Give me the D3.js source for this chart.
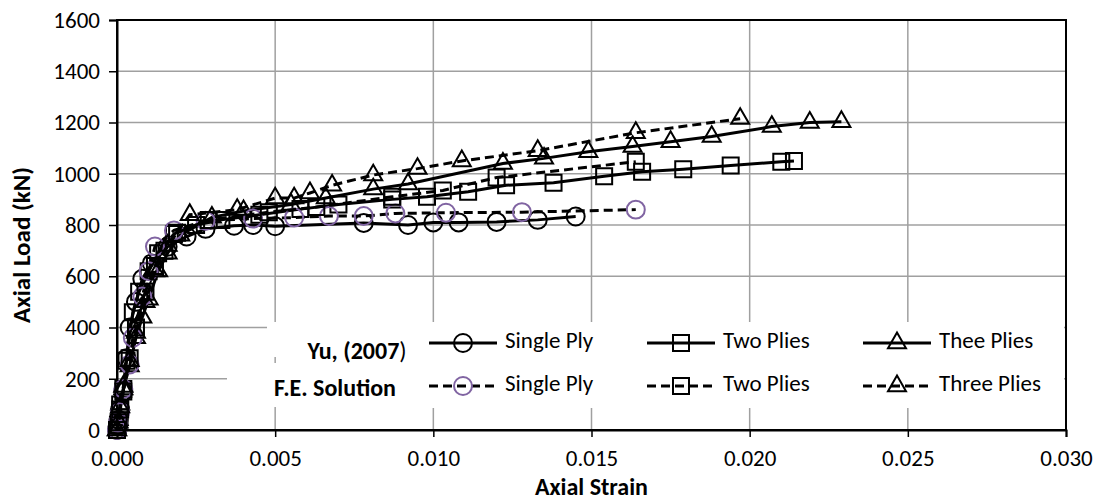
<!DOCTYPE html>
<html>
<head>
<meta charset="utf-8">
<script src="https://cdn.jsdelivr.net/npm/d3@7"></script>
<style>
  body { margin: 0; background: #fff; }
  svg text { font-family: Calibri, Carlito, Lato, sans-serif; fill: #000; }
</style>
</head>
<body>
<div id="chart"></div>
<script>
// data: [axial strain, axial load kN]
var yuSingle = [[0,0],[0.00002,15],[0.00005,40],[0.0001,80],[0.0002,150],[0.0003,280],[0.0004,400],[0.0006,500],[0.0008,590],[0.0011,650],[0.0016,715],[0.0022,755],[0.0028,785],[0.0037,797],[0.0043,800],[0.0050,795],[0.0078,808],[0.0092,800],[0.0100,810],[0.0108,810],[0.0120,812],[0.0133,820],[0.0145,833]];
var feSingle = [[0,0],[0.00003,30],[0.0001,70],[0.0002,160],[0.0004,256],[0.0005,360],[0.0008,521],[0.0010,620],[0.0012,716],[0.0018,779],[0.0028,817],[0.0043,825],[0.0056,829],[0.0067,835],[0.0078,835],[0.0088,845],[0.0104,848],[0.0128,850],[0.0164,860]];
var yuTwo = [[0,0],[0.00003,20],[0.00008,50],[0.0001,100],[0.0002,160],[0.0003,270],[0.0005,460],[0.0007,540],[0.0010,620],[0.0013,690],[0.0018,765],[0.0025,800],[0.0033,820],[0.0045,840],[0.0058,862],[0.0070,880],[0.0087,900],[0.0098,910],[0.0111,930],[0.0123,955],[0.0138,965],[0.0154,990],[0.0166,1008],[0.0179,1018],[0.0194,1032],[0.0210,1047],[0.0214,1050]];
var feTwo = [[0,0],[0.00005,30],[0.0001,80],[0.0002,150],[0.0004,280],[0.0006,400],[0.0009,540],[0.0012,640],[0.0015,700],[0.0019,770],[0.0029,820],[0.0048,850],[0.0063,870],[0.0087,910],[0.0103,935],[0.0120,985],[0.0164,1047]];
var yuThree = [[0,0],[0.00005,40],[0.0001,100],[0.0002,160],[0.0004,250],[0.0006,360],[0.0008,440],[0.0010,510],[0.0013,620],[0.0016,690],[0.0020,760],[0.0030,830],[0.0040,855],[0.0055,880],[0.0066,905],[0.0081,940],[0.0092,960],[0.0122,1040],[0.0135,1060],[0.0149,1086],[0.0163,1106],[0.0175,1125],[0.0188,1145],[0.0207,1184],[0.0219,1200],[0.0229,1203]];
var feThree = [[0,0],[0.00005,30],[0.0001,90],[0.0002,170],[0.0004,270],[0.0006,380],[0.0009,500],[0.0012,620],[0.0016,720],[0.0023,840],[0.0038,860],[0.0050,905],[0.0056,905],[0.0061,925],[0.0068,955],[0.0081,995],[0.0095,1020],[0.0109,1050],[0.0133,1090],[0.0164,1160],[0.0197,1215]];

var xTicks = [0, 0.005, 0.010, 0.015, 0.020, 0.025, 0.030];
var yTicks = [0, 200, 400, 600, 800, 1000, 1200, 1400, 1600];
var yuLabels = ['Single Ply', 'Two Plies', 'Thee Plies'];
var feLabels = ['Single Ply', 'Two Plies', 'Three Plies'];

main();

function main(){
	//configuration
	var width = 1103,
		height = 502,
		plotLeft = 117, plotRight = 1066, plotTop = 20, plotBottom = 430,
		fontSize = 23,
		boldSize = 24,
		purple = '#8064a2';

	var series = [
		{ data: yuSingle, shape: d3.symbolCircle, size: 254, dash: null, mark: '#000' },
		{ data: yuTwo, shape: d3.symbolSquare, size: 256, dash: null, mark: '#000' },
		{ data: yuThree, shape: d3.symbolTriangle, size: 140, dash: null, mark: '#000' },
		{ data: feSingle, shape: d3.symbolCircle, size: 254, dash: '9,5', mark: purple },
		{ data: feTwo, shape: d3.symbolSquare, size: 256, dash: '9,5', mark: '#000' },
		{ data: feThree, shape: d3.symbolTriangle, size: 140, dash: '9,5', mark: '#000' }
	];

	var x = d3.scaleLinear().domain([0, 0.03]).range([plotLeft, plotRight]);
	var y = d3.scaleLinear().domain([0, 1600]).range([plotBottom, plotTop]);

	var svg = d3.select('#chart')
		.append('svg')
			.attr('width', width)
			.attr('height', height);

	// gridlines
	svg.append('g')
		.selectAll('line')
		.data(yTicks.slice(1))
		.enter()
		.append('line')
			.attr('x1', plotLeft).attr('x2', plotRight)
			.attr('y1', function(d){ return y(d); })
			.attr('y2', function(d){ return y(d); })
			.attr('stroke', '#a0a0a0')
			.attr('stroke-width', 1.5);

	svg.append('g')
		.selectAll('line')
		.data(xTicks.slice(1, -1))
		.enter()
		.append('line')
			.attr('x1', function(d){ return x(d); })
			.attr('x2', function(d){ return x(d); })
			.attr('y1', plotTop).attr('y2', plotBottom)
			.attr('stroke', '#a0a0a0')
			.attr('stroke-width', 1.5);

	// white boxes behind legend and its two captions
	svg.append('rect').attr('x', 267).attr('y', 322).attr('width', 160).attr('height', 35).attr('fill', '#fff');
	svg.append('rect').attr('x', 227).attr('y', 363).attr('width', 200).attr('height', 44).attr('fill', '#fff');
	svg.append('rect').attr('x', 420).attr('y', 322).attr('width', 644).attr('height', 86).attr('fill', '#fff');

	// plot border
	svg.append('rect')
		.attr('x', plotLeft).attr('y', plotTop)
		.attr('width', plotRight - plotLeft).attr('height', plotBottom - plotTop)
		.attr('fill', 'none')
		.attr('stroke', '#000')
		.attr('stroke-width', 2);

	// axes
	var yAxis = d3.axisLeft(y).tickValues(yTicks).tickSize(8).tickPadding(9).tickFormat(d3.format('d'));
	var xAxis = d3.axisBottom(x).tickValues(xTicks).tickSize(7).tickPadding(13).tickFormat(d3.format('.3f'));

	var gy = svg.append('g').attr('transform', 'translate(' + plotLeft + ',0)').call(yAxis);
	var gx = svg.append('g').attr('transform', 'translate(0,' + plotBottom + ')').call(xAxis);
	[gx, gy].forEach(function(g){
		g.select('.domain').attr('stroke', '#000').attr('stroke-width', 2);
		g.selectAll('.tick line').attr('stroke', '#000').attr('stroke-width', 1.5);
		g.selectAll('.tick text').attr('font-size', fontSize).attr('font-family', 'Calibri, Carlito, Lato, sans-serif');
	});

	// axis titles
	svg.append('text')
		.attr('x', (plotLeft + plotRight) / 2).attr('y', 495)
		.attr('text-anchor', 'middle')
		.attr('font-size', boldSize).attr('font-weight', 'bold')
		.text('Axial Strain');

	svg.append('text')
		.attr('transform', 'translate(24,245) rotate(-90)')
		.attr('text-anchor', 'middle')
		.attr('dominant-baseline', 'middle')
		.attr('font-size', boldSize + 1).attr('font-weight', 'bold')
		.text('Axial Load (kN)');

	// series
	var line = d3.line()
		.x(function(d){ return x(d[0]); })
		.y(function(d){ return y(d[1]); });

	series.forEach(function(s){
		svg.append('path')
			.datum(s.data)
			.attr('d', line)
			.attr('fill', 'none')
			.attr('stroke', '#000')
			.attr('stroke-width', 3)
			.attr('stroke-dasharray', s.dash);

		svg.append('g')
			.selectAll('path')
			.data(s.data)
			.enter()
			.append('path')
				.attr('transform', function(d){ return 'translate(' + x(d[0]) + ',' + y(d[1]) + ')'; })
				.attr('d', d3.symbol().type(s.shape).size(s.size))
				.attr('fill', 'none')
				.attr('stroke', s.mark)
				.attr('stroke-width', 2);
	});

	// legend
	var colX = [429, 647, 863],
		rowY = [343, 386];

	[yuLabels, feLabels].forEach(function(labels, r){
		labels.forEach(function(label, c){
			var s = series[r * 3 + c],
				g = svg.append('g').attr('transform', 'translate(' + colX[c] + ',' + rowY[r] + ')');
			g.append('line')
				.attr('x1', 0).attr('x2', 68)
				.attr('stroke', '#000')
				.attr('stroke-width', 3)
				.attr('stroke-dasharray', s.dash);
			g.append('path')
				.attr('transform', 'translate(34,0)')
				.attr('d', d3.symbol().type(s.shape).size(s.size))
				.attr('fill', 'none')
				.attr('stroke', s.mark)
				.attr('stroke-width', 2);
			g.append('text')
				.attr('x', 76)
				.attr('dominant-baseline', 'middle')
				.attr('font-size', fontSize)
				.text(label);
		});
	});

	var yuText = svg.append('text')
		.attr('x', 357).attr('y', 353)
		.attr('text-anchor', 'middle')
		.attr('dominant-baseline', 'middle')
		.attr('font-size', boldSize);
	yuText.append('tspan').attr('font-weight', 'bold').text('Yu, (2007');
	yuText.append('tspan').text(')');

	svg.append('text')
		.attr('x', 335).attr('y', 390)
		.attr('text-anchor', 'middle')
		.attr('dominant-baseline', 'middle')
		.attr('font-size', boldSize).attr('font-weight', 'bold')
		.text('F.E. Solution');
}
</script>
</body>
</html>
